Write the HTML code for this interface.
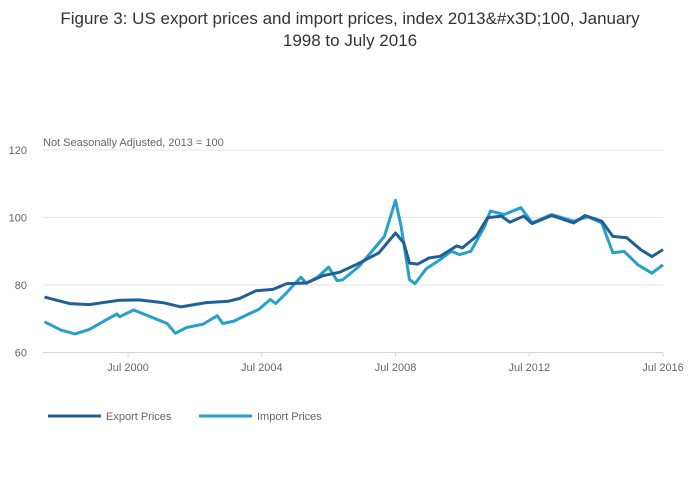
<!DOCTYPE html>
<html><head><meta charset="utf-8"><style>
body{margin:0;background:#fff;}
svg{display:block;font-family:"Liberation Sans",sans-serif;}
</style></head><body>
<svg id="chart" width="700" height="502">
<text x="350" y="24" text-anchor="middle" font-size="17" fill="#333">Figure 3: US export prices and import prices, index 2013&amp;#x3D;100, January</text>
<text x="350" y="46" text-anchor="middle" font-size="17" fill="#333">1998 to July 2016</text>
<text x="43" y="146" font-size="11" fill="#666">Not Seasonally Adjusted, 2013 = 100</text>
<g id="grid"></g><g id="xaxis"></g><g id="series"></g>
<g>
<g><line x1="48" y1="416" x2="101" y2="416" stroke="#206095" stroke-width="3"/><text x="106" y="420" font-size="11" fill="#666">Export Prices</text></g>
<g><line x1="199" y1="416" x2="252" y2="416" stroke="#27a0cc" stroke-width="3"/><text x="257" y="420" font-size="11" fill="#666">Import Prices</text></g>
</g>
</svg>
<script>
// month index from Jan 1998
const exportMonths=[0,9,16,27,34,43,49,58,66,70,76,82,87,94,100,106,113,120,126,129,131,134,138,142,148,150,155,159,164,167,172,175,182,190,194,200,204,209,214,218,222];
const exportValues=[76.4,74.5,74.2,75.5,75.6,74.7,73.5,74.8,75.2,76,78.3,78.7,80.4,80.6,82.8,83.8,86.5,89.5,95.4,92.4,86.5,86.2,88,88.5,91.6,91,94.4,99.9,100.4,98.6,100.4,98.2,100.6,98.4,100.6,98.9,94.4,94,90.5,88.4,90.5];
const importMonths=[0,6,11,16,22,26,27,32,38,44,47,51,57,62,64,68,73,77,81,83,87,92,94,98,102,105,107,113,118,122,126,128,131,133,137,142,146,149,153,158,160,165,171,175,182,190,195,200,204,208,213,218,222];
const importValues=[69.1,66.6,65.5,66.8,69.6,71.4,70.6,72.6,70.6,68.6,65.7,67.4,68.4,70.9,68.6,69.3,71.3,72.8,75.7,74.5,77.8,82.3,80.5,82.3,85.3,81.3,81.5,85.6,90.5,94.4,105.1,97.4,81.6,80.4,84.8,87.5,90,89,90,97.4,101.9,100.9,102.9,98.4,100.9,98.9,100.2,98.4,89.5,90,86,83.5,86];
const yTicks=[60,80,100,120];
const xTickMonths=[30,78,126,174,222];
const xTickLabels=["Jul 2000","Jul 2004","Jul 2008","Jul 2012","Jul 2016"];
const NS="http://www.w3.org/2000/svg";
const X0=44.5,XM=(663-44.5)/222;
function xs(m){return X0+XM*m;}
function ys(v){return 352.5-(v-60)*(352.5-150)/60;}
function mk(t,a,p){const e=document.createElementNS(NS,t);for(const k in a)e.setAttribute(k,a[k]);p.appendChild(e);return e;}
const grid=document.getElementById('grid');
yTicks.forEach(v=>{
  if(v>60){const l=mk('line',{x1:43,x2:663,y1:ys(v),y2:ys(v),stroke:'#e6e6e6','stroke-width':1},grid);
  
  }
  const t=mk('text',{x:27,y:ys(v)+4,'text-anchor':'end','font-size':11,fill:'#666'},grid);t.textContent=v;
  
  
});
const xa=document.getElementById('xaxis');
const ax=mk('line',{x1:43,x2:663,y1:352.5,y2:352.5,stroke:'#ccd6eb','stroke-width':1},xa);


xTickMonths.forEach((m,i)=>{
  mk('line',{x1:xs(m),x2:xs(m),y1:352.5,y2:357,stroke:'#ccd6eb'},xa);
  const t=mk('text',{x:xs(m),y:371,'text-anchor':'middle','font-size':11,fill:'#666'},xa);t.textContent=xTickLabels[i];
  
  
});
const sg=document.getElementById('series');
function draw(ms,vs,c,n){
  const d=ms.map((m,i)=>(i?'L':'M')+xs(m).toFixed(1)+','+ys(vs[i]).toFixed(1)).join('');
  const p=mk('path',{d:d,fill:'none',stroke:c,'stroke-width':3,'stroke-linejoin':'round'},sg);
  
  
}
draw(importMonths,importValues,'#27a0cc','import-prices-line');
draw(exportMonths,exportValues,'#206095','export-prices-line');
</script>
</body></html>
